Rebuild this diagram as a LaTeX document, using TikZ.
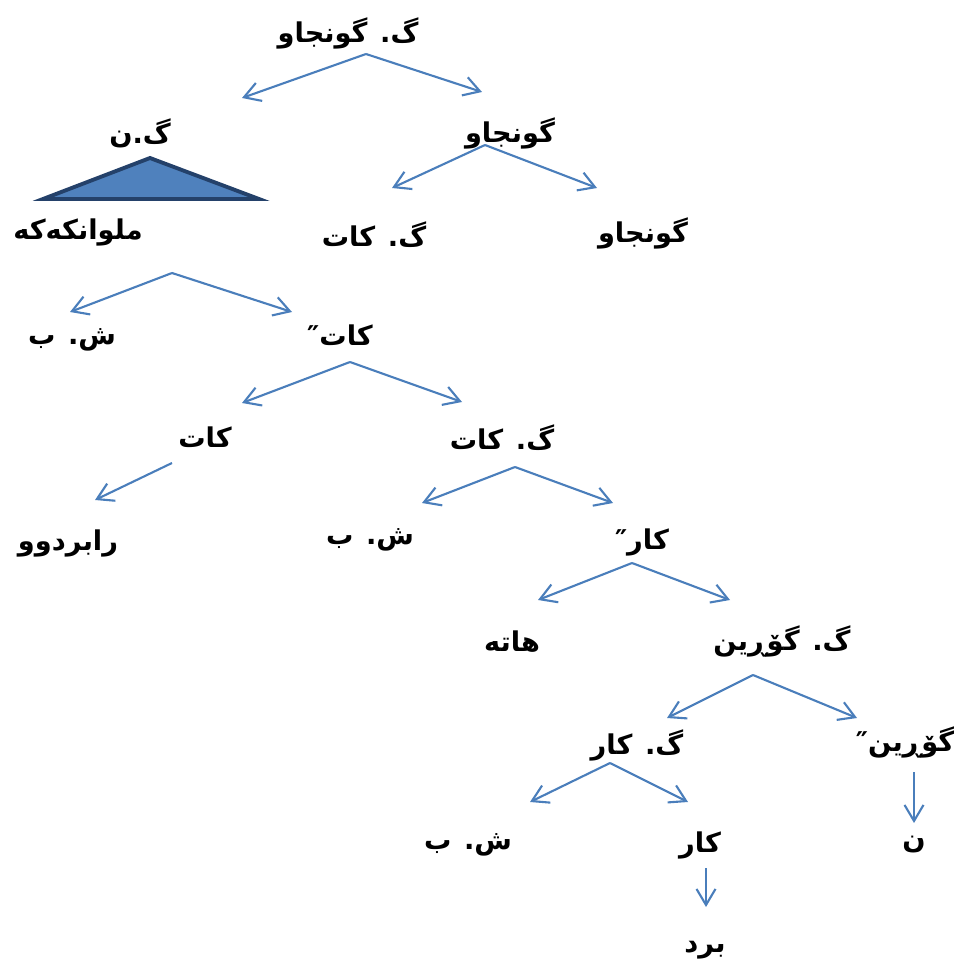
\documentclass[tikz,border=0pt]{standalone}
\usepackage{fontspec}
\newfontfamily\arabicfont[Script=Arabic]{DejaVu Sans}
\TeXXeTstate=1
\usetikzlibrary{arrows.meta}
\definecolor{arrowblue}{HTML}{4A7EBB}
\definecolor{trifill}{HTML}{4F81BD}
\definecolor{triedge}{HTML}{24416A}
\newcommand{\ku}[1]{{\arabicfont\bfseries\beginR #1\endR}}

\begin{document}
\begin{tikzpicture}[x=0.02cm, y=-0.02cm]
  \useasboundingbox (0, 0) rectangle (953, 969);
  \tikzstyle{word}=[inner sep=1pt, font=\fontsize{15.5}{18}\selectfont]
  \tikzstyle{arr}=[draw=arrowblue, line width=1.2pt, -{Straight Barb[length=0.32cm, width=0.38cm]}]

  % Words
  \node[word] (n0)  at (348, 33)  {\ku{گ. گونجاو}};
  \node[word] (n1)  at (140, 133) {\ku{گ.ن}};
  \node[word] (n2)  at (78,  232) {\ku{ملوانکەکە}};
  \node[word] (n3)  at (510, 133) {\ku{گونجاو}};
  \node[word] (n4)  at (374, 235) {\ku{گ. کات}};
  \node[word] (n5)  at (643, 233) {\ku{گونجاو}};
  \node[word] (n6)  at (72,  340) {\ku{ش. ب}};
  \node[word] (n7)  at (340, 335) {\ku{کات″}};
  \node[word] (n8)  at (205, 437) {\ku{کات}};
  \node[word] (n9)  at (502, 438) {\ku{گ. کات}};
  \node[word] (n10) at (68,  543) {\ku{رابردوو}};
  \node[word] (n11) at (370, 540) {\ku{ش. ب}};
  \node[word] (n12) at (642, 542) {\ku{کار″}};
  \node[word] (n13) at (512, 642) {\ku{هاتە}};
  \node[word] (n14) at (782, 641) {\ku{گ. گۆڕین}};
  \node[word] (n15) at (637, 745) {\ku{گ. کار}};
  \node[word] (n16) at (905, 742) {\ku{گۆڕین″}};
  \node[word] (n17) at (468, 845) {\ku{ش. ب}};
  \node[word] (n18) at (700, 845) {\ku{کار}};
  \node[word] (n19) at (914, 845) {\ku{ن}};
  \node[word] (n20) at (705, 950) {\ku{برد}};

  % Triangle under g.n
  \filldraw[fill=trifill, draw=triedge, line width=2.2pt]
    (150, 158) -- (259, 199) -- (43, 199) -- cycle;

  % Branch points and arrow ends
  \coordinate (a0) at (366, 54);   \coordinate (t0l) at (242, 98);  \coordinate (t0r) at (482, 92);
  \coordinate (a3) at (485, 145);  \coordinate (t3l) at (392, 188); \coordinate (t3r) at (597, 188);
  \coordinate (a2) at (172, 273);  \coordinate (t2l) at (70, 312);  \coordinate (t2r) at (292, 312);
  \coordinate (a7) at (350, 362);  \coordinate (t7l) at (242, 403); \coordinate (t7r) at (462, 402);
  \coordinate (a8) at (172, 463);  \coordinate (t8) at (95, 500);
  \coordinate (a9) at (515, 467);  \coordinate (t9l) at (422, 503); \coordinate (t9r) at (613, 503);
  \coordinate (a12) at (632, 563); \coordinate (t12l) at (538, 600); \coordinate (t12r) at (730, 600);
  \coordinate (a14) at (753, 675); \coordinate (t14l) at (667, 718); \coordinate (t14r) at (857, 718);
  \coordinate (a15) at (610, 763); \coordinate (t15l) at (530, 802); \coordinate (t15r) at (688, 802);
  \coordinate (a16) at (914, 772); \coordinate (t16) at (914, 823);
  \coordinate (a18) at (706, 868); \coordinate (t18) at (706, 907);

  \path (a0) edge[arr] (t0l);
  \path (a0) edge[arr] (t0r);
  \path (a3) edge[arr] (t3l);
  \path (a3) edge[arr] (t3r);
  \path (a2) edge[arr] (t2l);
  \path (a2) edge[arr] (t2r);
  \path (a7) edge[arr] (t7l);
  \path (a7) edge[arr] (t7r);
  \path (a8) edge[arr] (t8);
  \path (a9) edge[arr] (t9l);
  \path (a9) edge[arr] (t9r);
  \path (a12) edge[arr] (t12l);
  \path (a12) edge[arr] (t12r);
  \path (a14) edge[arr] (t14l);
  \path (a14) edge[arr] (t14r);
  \path (a15) edge[arr] (t15l);
  \path (a15) edge[arr] (t15r);
  \path (a16) edge[arr] (t16);
  \path (a18) edge[arr] (t18);
\end{tikzpicture}
\end{document}
